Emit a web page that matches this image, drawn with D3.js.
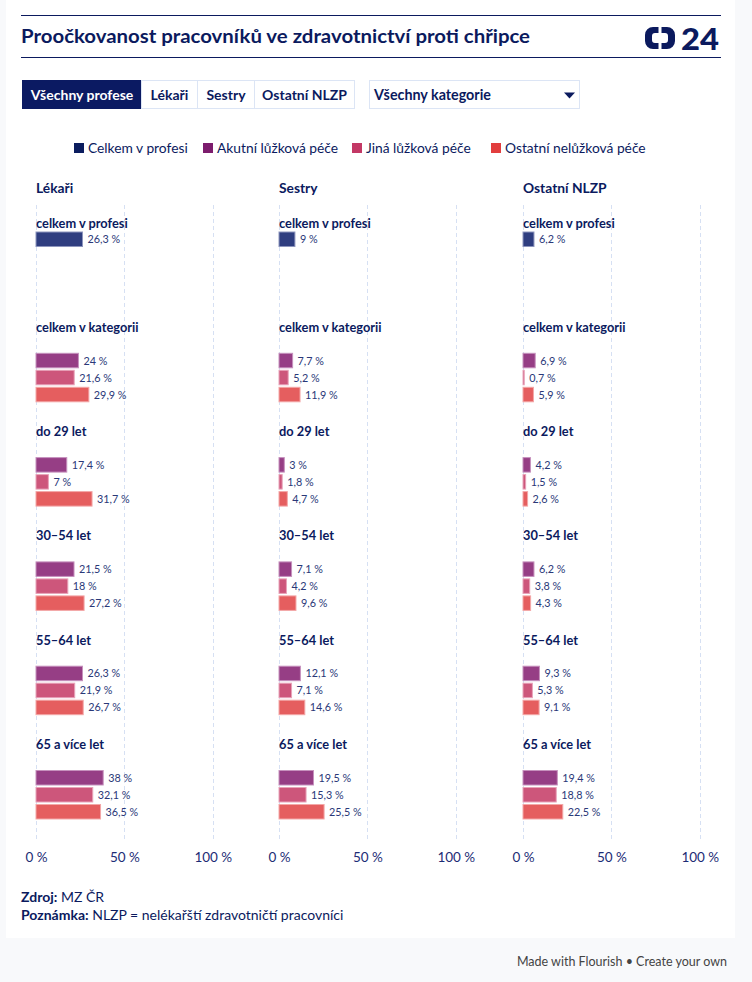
<!DOCTYPE html>
<html>
<head>
<meta charset="utf-8">
<script src="https://cdn.jsdelivr.net/npm/d3@7"></script>
<style>
  html, body { margin: 0; padding: 0; background: #f8f9fb; }
  svg { display: block; font-family: Lato, "Noto Sans", sans-serif; }
</style>
</head>
<body>
<svg id="chart" width="752" height="982"></svg>
<script>
// ---------- DATA ----------
const categories = ["celkem v profesi", "celkem v kategorii", "do 29 let", "30–54 let", "55–64 let", "65 a více let"];
const professions = ["Lékaři", "Sestry", "Ostatní NLZP"];
const seriesNames = ["Celkem v profesi", "Akutní lůžková péče", "Jiná lůžková péče", "Ostatní nelůžková péče"];
const tabs = ["Všechny profese", "Lékaři", "Sestry", "Ostatní NLZP"];
const dropdownLabel = "Všechny kategorie";
const tickValues = [0, 50, 100];

const lekariCelkem   = [26.3, null, null, null, null, null];
const lekariAkutni   = [null, 24, 17.4, 21.5, 26.3, 38];
const lekariJina     = [null, 21.6, 7, 18, 21.9, 32.1];
const lekariOstatni  = [null, 29.9, 31.7, 27.2, 26.7, 36.5];

const sestryCelkem   = [9, null, null, null, null, null];
const sestryAkutni   = [null, 7.7, 3, 7.1, 12.1, 19.5];
const sestryJina     = [null, 5.2, 1.8, 4.2, 7.1, 15.3];
const sestryOstatni  = [null, 11.9, 4.7, 9.6, 14.6, 25.5];

const nlzpCelkem     = [6.2, null, null, null, null, null];
const nlzpAkutni     = [null, 6.9, 4.2, 6.2, 9.3, 19.4];
const nlzpJina       = [null, 0.7, 1.5, 3.8, 5.3, 18.8];
const nlzpOstatni    = [null, 5.9, 2.6, 4.3, 9.1, 22.5];

const panelValues = [
  [lekariCelkem, lekariAkutni, lekariJina, lekariOstatni],
  [sestryCelkem, sestryAkutni, sestryJina, sestryOstatni],
  [nlzpCelkem, nlzpAkutni, nlzpJina, nlzpOstatni]
];

// ---------- STYLE ----------
const navy = "#0b1a5e";
const legendColors = ["#0b1d5f", "#7c1c6d", "#c33865", "#e23e3e"];
const barColors = ["#2f3e80", "#963e85", "#cd567b", "#e55e5f"];
const barStroke = ["#8d95bd", "#c691bd", "#e8a3b9", "#f3a7a7"];

const svg = d3.select("#chart");

// card
svg.append("rect").attr("x", 6).attr("y", 0).attr("width", 729).attr("height", 938).attr("fill", "#fff");

// header lines
svg.append("line").attr("x1", 21).attr("x2", 721).attr("y1", 15.5).attr("y2", 15.5).attr("stroke", navy).attr("stroke-width", 1);
svg.append("line").attr("x1", 21).attr("x2", 721).attr("y1", 57.5).attr("y2", 57.5).attr("stroke", navy).attr("stroke-width", 1);

// title
svg.append("text").attr("x", 21).attr("y", 43)
  .attr("font-size", 19.5).attr("font-weight", 700).attr("fill", navy)
  .attr("textLength", 509).attr("lengthAdjust", "spacingAndGlyphs")
  .text("Proočkovanost pracovníků ve zdravotnictví proti chřipce");

// logo
const logo = svg.append("g");
const outer = "M653,27 H667 A8,8 0 0 1 675,35 V41 A8,8 0 0 1 667,49 H653 A8,8 0 0 1 645,41 V35 A8,8 0 0 1 653,27 Z";
const inner = "M655,33 H665 A3,3 0 0 1 668,36 V40 A3,3 0 0 1 665,43 H655 A3,3 0 0 1 652,40 V36 A3,3 0 0 1 655,33 Z";
logo.append("path").attr("d", outer + " " + inner).attr("fill", navy).attr("fill-rule", "evenodd");
logo.append("rect").attr("x", 658.5).attr("y", 25).attr("width", 3).attr("height", 26).attr("fill", "#fff");
logo.append("text").attr("x", 681).attr("y", 50).attr("font-size", 30).attr("font-weight", 900)
  .attr("fill", navy).attr("textLength", 38).attr("lengthAdjust", "spacingAndGlyphs").text("24");

// tabs
const tabX = [22, 141, 197, 254, 354];
tabs.forEach((t, i) => {
  const sel = i === 0;
  svg.append("rect").attr("x", tabX[i] + 0.5).attr("y", 80.5).attr("width", tabX[i + 1] - tabX[i]).attr("height", 28)
    .attr("fill", sel ? "#0b1a62" : "#fff").attr("stroke", sel ? "#0b1a62" : "#dce5f5").attr("stroke-width", 1);
  svg.append("text").attr("x", (tabX[i] + tabX[i + 1]) / 2 + 0.5).attr("y", 99.5)
    .attr("text-anchor", "middle").attr("font-size", 14).attr("font-weight", 700)
    .attr("fill", sel ? "#fff" : navy).text(t);
});
// dropdown
svg.append("rect").attr("x", 369.5).attr("y", 80.5).attr("width", 210).attr("height", 28)
  .attr("fill", "#fff").attr("stroke", "#dce5f5");
svg.append("text").attr("x", 374).attr("y", 99.5).attr("font-size", 14.3).attr("font-weight", 700)
  .attr("fill", navy).text(dropdownLabel);
svg.append("path").attr("d", "M564,92.5 L575,92.5 L569.5,98.5 Z").attr("fill", navy);

// legend
const legendX = [74, 203, 352, 491];
seriesNames.forEach((s, i) => {
  svg.append("rect").attr("x", legendX[i]).attr("y", 143).attr("width", 10).attr("height", 10).attr("fill", legendColors[i]);
  svg.append("text").attr("x", legendX[i] + 14).attr("y", 152.5).attr("font-size", 13.8)
    .attr("fill", navy).text(s);
});

// ---------- PANELS ----------
const panelLeft = [36, 279, 523];
const panelWidth = 176.8;
const gTop = 214;
const gStep = 104.3;

const y = d3.scaleBand().domain(categories).range([gTop, gTop + gStep * categories.length]).padding(0);
const ySub = d3.scaleBand().domain(seriesNames).range([18, 18 + 4 * 17 - 2.5]).paddingInner(0.147).paddingOuter(0);

const fmt = v => String(v).replace(".", ",") + " %";

professions.forEach((prof, p) => {
  const x = d3.scaleLinear().domain([0, 100]).range([panelLeft[p], panelLeft[p] + panelWidth]);
  const g = svg.append("g");

  // grid
  g.selectAll(".grid").data(tickValues).join("line")
    .attr("x1", d => Math.round(x(d)) + 0.5).attr("x2", d => Math.round(x(d)) + 0.5)
    .attr("y1", 205).attr("y2", 839)
    .attr("stroke", "#d6e0f3").attr("stroke-width", 1).attr("stroke-dasharray", "4,3");

  // heading
  g.append("text").attr("x", panelLeft[p]).attr("y", 193).attr("font-size", 13.8).attr("font-weight", 700)
    .attr("fill", navy).text(prof);

  // axis
  const axis = d3.axisBottom(x).tickValues(tickValues).tickFormat(d => d + " %").tickSize(0).tickPadding(0);
  const ax = g.append("g").attr("transform", "translate(0,852)").call(axis);
  ax.select(".domain").remove();
  ax.selectAll("text").attr("font-size", 13.5).attr("fill", "#1c2c75").attr("font-family", "Lato, 'Noto Sans', sans-serif");

  categories.forEach((cat, c) => {
    const gy = y(cat);
    g.append("text").attr("x", panelLeft[p]).attr("y", gy + 13.5).attr("font-size", 12.8).attr("font-weight", 700)
      .attr("fill", navy).text(cat);
    seriesNames.forEach((s, si) => {
      const v = panelValues[p][si][c];
      if (v == null) return;
      const by = gy + ySub(s);
      g.append("rect").attr("x", x(0)).attr("y", by)
        .attr("width", Math.max(0, x(v) - x(0))).attr("height", ySub.bandwidth())
        .attr("fill", barColors[si]).attr("stroke", barStroke[si]).attr("stroke-width", 1);
      g.append("text").attr("x", x(v) + 5).attr("y", by + ySub.bandwidth() / 2 + 4)
        .attr("font-size", 10.8).attr("fill", "#2a3878").text(fmt(v));
    });
  });
});

// footer
const f1 = svg.append("text").attr("x", 21).attr("y", 902).attr("font-size", 14).attr("fill", navy);
f1.append("tspan").attr("font-weight", 700).text("Zdroj:");
f1.append("tspan").text(" MZ ČR");
const f2 = svg.append("text").attr("x", 21).attr("y", 920).attr("font-size", 14).attr("fill", navy);
f2.append("tspan").attr("font-weight", 700).text("Poznámka:");
f2.append("tspan").text(" NLZP = nelékařští zdravotničtí pracovníci");

svg.append("text").attr("x", 727).attr("y", 966).attr("text-anchor", "end").attr("font-size", 12.5)
  .attr("fill", "#444").text("Made with Flourish • Create your own");
</script>
</body>
</html>
